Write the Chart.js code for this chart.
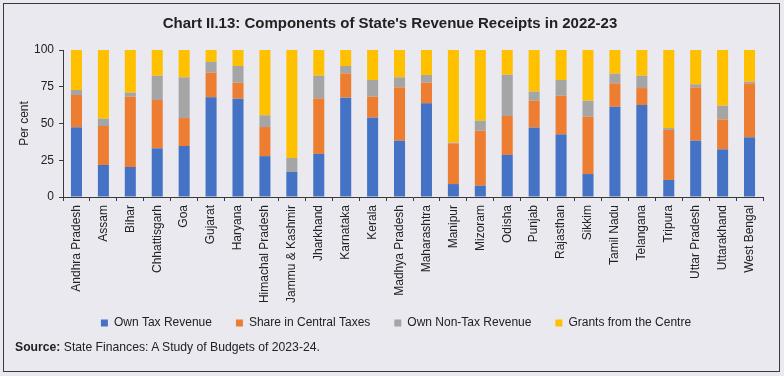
<!DOCTYPE html>
<html>
<head>
<meta charset="utf-8">
<script src="https://cdn.jsdelivr.net/npm/chart.js@4.4.1/dist/chart.umd.min.js"></script>
<style>
  html, body { margin: 0; padding: 0; }
  body { width: 784px; height: 376px; background: #ffffff; position: relative; overflow: hidden; }
  #wrap { position: absolute; left: 0; top: 0; width: 784px; height: 376px; background: #eae9f0; }
  #frame { position: absolute; left: 3px; top: 3px; width: 775px; height: 367px; border: 1px solid #3a3a3a; pointer-events: none; }
  #chart { position: absolute; left: 0; top: 0; }
  #source { position: absolute; left: 15px; top: 340px; font: 12.2px/14px 'Liberation Sans', Arial, sans-serif; color: #222; white-space: nowrap; }
</style>
</head>
<body>
<div id="wrap">
  <canvas id="chart" width="784" height="376"></canvas>
  <div id="source"><b>Source:</b> State Finances: A Study of Budgets of 2023-24.</div>
  <div id="frame"></div>
</div>
<script>
const categories = ["Andhra Pradesh","Assam","Bihar","Chhattisgarh","Goa","Gujarat","Haryana","Himachal Pradesh","Jammu & Kashmir","Jharkhand","Karnataka","Kerala","Madhya Pradesh","Maharashtra","Manipur","Mizoram","Odisha","Punjab","Rajasthan","Sikkim","Tamil Nadu","Telangana","Tripura","Uttar Pradesh","Uttarakhand","West Bengal"];
const ownTaxRevenue      = [47.4,21.8,20.4,33.1,34.7,67.8,66.9,27.8,17.0,29.3,67.6,54.0,38.3,63.7, 8.8, 7.7,28.6,47.2,42.6,15.6,61.4,62.6,11.6,38.3,32.4,40.6];
const shareCentralTaxes  = [22.0,26.5,47.8,32.9,19.0,16.8,10.9,19.8, 0.0,37.8,16.5,14.2,36.3,14.1,27.7,37.4,26.5,18.3,26.3,39.0,15.9,11.5,34.0,36.3,20.4,36.7];
const ownNonTaxRevenue   = [ 3.4, 5.0, 2.8,16.5,27.7, 7.4,11.3, 8.0, 9.5,15.4, 5.0,11.4, 6.8, 5.2, 0.5, 6.8,28.1, 6.2,10.7,10.9, 6.6, 8.4, 1.3, 2.1, 9.3, 1.2];
const grantsFromCentre   = [27.2,46.7,29.0,17.5,18.6, 8.0,10.9,44.4,73.5,17.5,10.9,20.4,18.6,17.0,63.0,48.1,16.8,28.3,20.4,34.5,16.1,17.5,53.1,23.3,37.9,21.5];
const yTicks = [0, 25, 50, 75, 100];

const FONT = "'Liberation Sans', Arial, sans-serif";
const TXT = '#222222';
const AX = '#3a3a3a';

const mk = (label, data, color) => ({
  label, data, backgroundColor: color, borderWidth: 0,
  barPercentage: 0.41, categoryPercentage: 1.0
});

const legendShift = {
  id: 'legendShift',
  afterLayout(chart) {
    const lg = chart.legend;
    if (!lg) return;
    const d = 396 - (lg.left + lg.right) / 2;
    lg.left += d; lg.right += d;
    lg.top -= 12; lg.bottom -= 12;
  }
};

new Chart(document.getElementById('chart'), {
  type: 'bar',
  data: {
    labels: categories,
    datasets: [
      mk('Own Tax Revenue', ownTaxRevenue, '#4472c4'),
      mk('Share in Central Taxes', shareCentralTaxes, '#ed7d31'),
      mk('Own Non-Tax Revenue', ownNonTaxRevenue, '#a5a5a5'),
      mk('Grants from the Centre', grantsFromCentre, '#ffc000')
    ]
  },
  plugins: [legendShift],
  options: {
    responsive: false,
    animation: false,
    events: [],
    layout: { padding: { left: 17, right: 21, top: 0, bottom: 25 } },
    plugins: {
      title: {
        display: true,
        text: "Chart II.13: Components of State's Revenue Receipts in 2022-23",
        color: TXT,
        font: { family: FONT, size: 15, weight: 'bold' },
        padding: { top: 15, bottom: 17 }
      },
      legend: {
        position: 'bottom',
        labels: {
          color: TXT,
          font: { family: FONT, size: 12 },
          boxWidth: 7, boxHeight: 7,
          padding: 24
        }
      },
      tooltip: { enabled: false }
    },
    scales: {
      x: {
        stacked: true,
        grid: { display: true, drawOnChartArea: false, drawTicks: true, tickLength: 4, color: AX, offset: true },
        border: { display: true, color: AX, width: 1 },
        ticks: { color: TXT, font: { family: FONT, size: 12 }, maxRotation: 90, minRotation: 90, autoSkip: false, padding: 4 },
        afterFit: (s) => { s.height = 108; }
      },
      y: {
        stacked: true,
        min: 0, max: 100,
        afterBuildTicks: (s) => { s.ticks = yTicks.map(v => ({ value: v })); },
        grid: { display: true, drawOnChartArea: false, drawTicks: true, tickLength: 4, color: AX },
        border: { display: true, color: AX, width: 1 },
        ticks: { color: TXT, font: { family: FONT, size: 12 }, padding: 5 },
        title: { display: true, text: 'Per cent', color: TXT, font: { family: FONT, size: 12 }, padding: { top: 0, bottom: 2 } },
        afterFit: (s) => { s.width = 46; }
      }
    }
  }
});
</script>
</body>
</html>
